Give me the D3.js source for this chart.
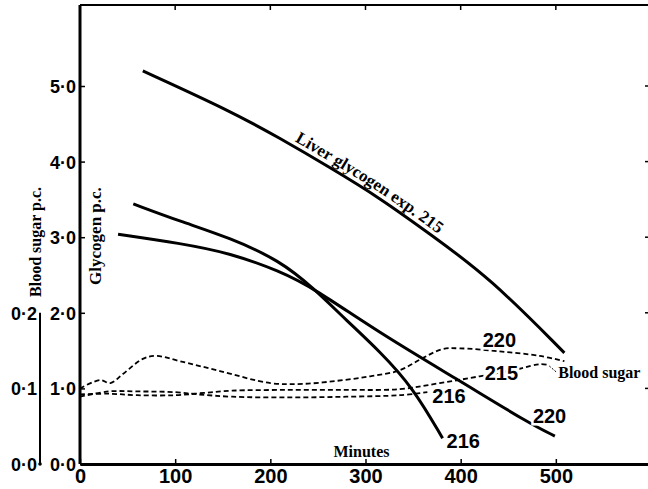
<html lang="en">
<head>
<meta charset="UTF-8"/>
<title>Glycogen and blood sugar</title>
<script src="https://d3js.org/d3.v7.min.js"></script>
<style>
    body { margin: 0; background: #fff; }
    .tick text { font-family: "Liberation Sans", Arial, sans-serif; font-weight: bold; fill: #000; }
    .serif { font-family: "Liberation Serif", "DejaVu Serif", serif; font-weight: bold; }
    .num { font-family: "Liberation Sans", Arial, sans-serif; font-weight: bold; font-size: 20px; }
</style>
</head>
<body>
<script>
    // minutes / glycogen p.c.
    var liverTime = [66, 158, 210, 263, 315, 368, 431, 509];
    var liverGly  = [5.20, 4.67, 4.31, 3.92, 3.52, 3.04, 2.46, 1.47];

    var gly216Time = [56, 105, 158, 210, 245, 280, 315, 350, 381];
    var gly216     = [3.44, 3.21, 2.99, 2.69, 2.33, 1.90, 1.49, 1.01, 0.34];

    var gly220Time = [40, 105, 158, 210, 245, 315, 399, 473, 499];
    var gly220     = [3.04, 2.92, 2.79, 2.55, 2.33, 1.73, 1.10, 0.53, 0.37];

    // blood sugar p.c.
    var bs220Time = [0, 21, 32, 45, 66, 80, 105, 147, 200, 234, 270, 305, 336, 360, 381, 399, 441, 483, 509];
    var bs220     = [0.100, 0.111, 0.107, 0.119, 0.139, 0.143, 0.136, 0.123, 0.107, 0.106, 0.110, 0.116, 0.124, 0.140, 0.152, 0.153, 0.149, 0.143, 0.136];

    var bs215Time = [0, 30, 60, 100, 130, 160, 220, 280, 336, 378, 420, 462, 483, 492];
    var bs215     = [0.092, 0.093, 0.091, 0.091, 0.094, 0.097, 0.098, 0.098, 0.099, 0.107, 0.116, 0.126, 0.132, 0.131];

    var bs216Time = [0, 30, 60, 100, 125, 160, 220, 280, 336, 365];
    var bs216     = [0.089, 0.096, 0.096, 0.095, 0.092, 0.089, 0.088, 0.089, 0.091, 0.095];

    var xTicks = [0, 100, 200, 300, 400, 500];
    var glyTicks = [0, 1, 2, 3, 4, 5];
    var bsTicks = [0, 0.1, 0.2];

    var w = 648, h = 489;

    var x = d3.scaleLinear().domain([0, 600]).range([80, 651]);
    var y = d3.scaleLinear().domain([0, 5]).range([464, 86]);
    var yb = d3.scaleLinear().domain([0, 0.5]).range([464, 86]); // 0.1 blood sugar = 1.0 glycogen

    var fmt = function(d) { return d.toFixed(1).replace(".", "\u00B7"); };

    var svg = d3.select("body").append("svg")
        .attr("width", w)
        .attr("height", h);

    svg.append("rect").attr("width", w).attr("height", h).attr("fill", "#fff");

    // frame: top and right
    svg.append("line").attr("x1", x(0)).attr("x2", x(600)).attr("y1", 5).attr("y2", 5)
        .attr("stroke", "#000").attr("stroke-width", 2);
    svg.append("line").attr("x1", x(600)).attr("x2", x(600)).attr("y1", 5).attr("y2", y(0))
        .attr("stroke", "#000").attr("stroke-width", 2);

    svg.selectAll(".topTick").data(xTicks.slice(1)).enter().append("line")
        .attr("x1", function(d) { return x(d); }).attr("x2", function(d) { return x(d); })
        .attr("y1", 5).attr("y2", 10).attr("stroke", "#000").attr("stroke-width", 1.5);
    svg.selectAll(".rightTick").data(glyTicks.slice(1)).enter().append("line")
        .attr("x1", x(600) - 6).attr("x2", x(600))
        .attr("y1", function(d) { return y(d); }).attr("y2", function(d) { return y(d); })
        .attr("stroke", "#000").attr("stroke-width", 1.5);

    // bottom axis
    var xAxis = svg.append("g")
        .attr("transform", "translate(0," + y(0) + ")")
        .call(d3.axisBottom(x).tickValues(xTicks).tickSize(-5).tickSizeOuter(0).tickPadding(5).tickFormat(d3.format("d")));
    xAxis.select(".domain").attr("stroke-width", 3);
    xAxis.selectAll(".tick line").attr("stroke-width", 1.5);
    xAxis.selectAll(".tick text").style("font-size", "20px").attr("dy", "0.72em");

    // left glycogen axis
    var yAxis = svg.append("g")
        .attr("transform", "translate(" + x(0) + ",0)")
        .call(d3.axisLeft(y).tickValues(glyTicks).tickSize(-5).tickSizeOuter(0).tickPadding(4).tickFormat(fmt));
    yAxis.select(".domain").attr("stroke-width", 3).attr("d", "M0," + y(0) + "V5");
    yAxis.selectAll(".tick line").attr("stroke-width", 1.5);
    yAxis.selectAll(".tick text").style("font-size", "18px").attr("dy", "0.36em");

    // blood sugar axis
    var bAxis = svg.append("g")
        .attr("transform", "translate(40,0)")
        .call(d3.axisLeft(yb).tickValues(bsTicks).tickSize(0).tickSizeOuter(0).tickPadding(3).tickFormat(fmt));
    bAxis.select(".domain").attr("stroke-width", 2).attr("d", "M0," + yb(0) + "V" + yb(0.2));
    bAxis.selectAll(".tick text").style("font-size", "18px").attr("dy", "0.36em");
    svg.append("circle").attr("cx", 40).attr("cy", yb(0)).attr("r", 1.8).attr("fill", "#000");

    // axis titles
    svg.append("text").attr("class", "serif")
        .attr("transform", "translate(41," + 242 + ") rotate(-90)")
        .attr("text-anchor", "middle").style("font-size", "16px")
        .text("Blood sugar p.c.");
    svg.append("text").attr("class", "serif")
        .attr("transform", "translate(101," + 236 + ") rotate(-90)")
        .attr("text-anchor", "middle").style("font-size", "17px")
        .text("Glycogen p.c.");
    svg.append("text").attr("class", "serif")
        .attr("x", x(300) - 32).attr("y", y(0) - 7)
        .style("font-size", "16px")
        .text("Minutes");

    function pts(ts, vs) { return ts.map(function(t, i) { return [t, vs[i]]; }); }

    var glyLine = d3.line()
        .x(function(d) { return x(d[0]); })
        .y(function(d) { return y(d[1]); })
        .curve(d3.curveBasis);
    var bsLine = d3.line()
        .x(function(d) { return x(d[0]); })
        .y(function(d) { return yb(d[1]); })
        .curve(d3.curveCatmullRom.alpha(0.5));

    // blood sugar dashed curves
    [[bs220Time, bs220], [bs215Time, bs215], [bs216Time, bs216]].forEach(function(s) {
        svg.append("path")
            .attr("d", bsLine(pts(s[0], s[1])))
            .attr("fill", "none").attr("stroke", "#000")
            .attr("stroke-width", 1.8).attr("stroke-dasharray", "5,3");
    });

    // glycogen curves
    var liverPath = svg.append("path")
        .attr("id", "liver")
        .attr("d", glyLine(pts(liverTime, liverGly)))
        .attr("fill", "none").attr("stroke", "#000").attr("stroke-width", 3);
    [[gly216Time, gly216], [gly220Time, gly220]].forEach(function(s) {
        svg.append("path")
            .attr("d", glyLine(pts(s[0], s[1])))
            .attr("fill", "none").attr("stroke", "#000").attr("stroke-width", 3);
    });

    // label along the liver curve
    var node = liverPath.node(), len = node.getTotalLength(), off = 0;
    for (var l = 0; l < len; l += 1) {
        if (node.getPointAtLength(l).x >= x(222)) { off = l; break; }
    }
    svg.append("text").attr("class", "serif").style("font-size", "17px")
        .attr("dy", -5)
        .append("textPath").attr("href", "#liver").attr("startOffset", off)
        .text("Liver glycogen exp. 215");

    // curve labels
    function numLabel(t, v, scale, dx, dy, txt) {
        svg.append("text").attr("class", "num")
            .attr("x", x(t) + dx).attr("y", scale(v) + dy)
            .attr("stroke", "#fff").attr("stroke-width", 5).attr("paint-order", "stroke")
            .text(txt);
    }
    numLabel(gly216Time[gly216Time.length - 1], gly216[gly216.length - 1], y, 4, 10, "216");
    numLabel(gly220Time[gly220Time.length - 1], gly220[gly220.length - 1], y, -22, -13, "220");
    numLabel(bs216Time[bs216Time.length - 1], bs216[bs216.length - 1], yb, 5, 11, "216");
    numLabel(399, 0.153, yb, 23, -1, "220");
    numLabel(420, 0.116, yb, 5, 4, "215");

    // Blood sugar label with small leader from the 215 curve
    var ex = x(bs215Time[bs215Time.length - 1]), ey = yb(bs215[bs215.length - 1]);
    svg.append("path")
        .attr("d", "M" + (ex + 1) + "," + (ey + 1) + "L" + (ex + 8) + "," + (ey + 7))
        .attr("stroke", "#000").attr("stroke-width", 1).attr("stroke-dasharray", "2,1.5").attr("fill", "none");
    svg.append("text").attr("class", "serif").style("font-size", "16px")
        .attr("x", ex + 10).attr("y", ey + 13)
        .text("Blood sugar");
</script>
</body>
</html>
